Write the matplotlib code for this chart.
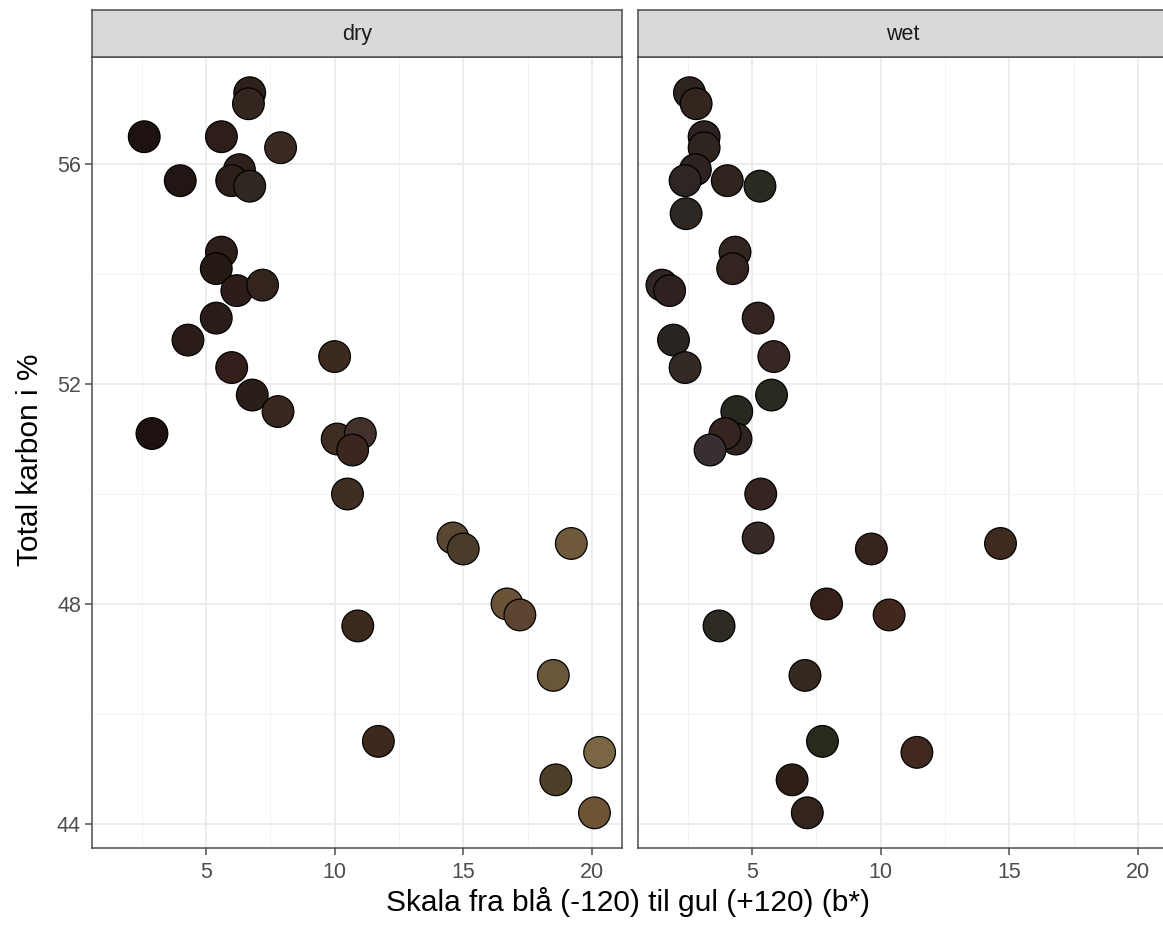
import matplotlib
matplotlib.use("Agg")
import matplotlib.pyplot as plt
from matplotlib.ticker import MultipleLocator

plt.rcParams["font.family"] = ["Liberation Sans", "DejaVu Sans"]

# dry samples: b* value, total carbon %, sample colour
dry_b = [6.7, 6.65, 2.6, 5.6, 7.9, 6.3, 4.0, 6.0, 6.7, 5.6, 5.4, 6.2, 7.2, 5.4, 4.3, 6.0,
         6.8, 7.8, 2.9, 10.0, 10.1, 11.0, 10.7, 10.5, 14.6, 15.0, 19.2, 16.7, 17.2, 10.9,
         18.5, 11.7, 20.3, 18.6, 20.1]
dry_c = [57.3, 57.1, 56.5, 56.5, 56.3, 55.9, 55.7, 55.7, 55.6, 54.4, 54.1, 53.7, 53.8, 53.2,
         52.8, 52.3, 51.8, 51.5, 51.1, 52.5, 51.0, 51.1, 50.8, 50.0, 49.2, 49.0, 49.1, 48.0,
         47.8, 47.6, 46.7, 45.5, 45.3, 44.8, 44.2]
dry_col = ["#2e211c", "#33261e", "#1e1210", "#2e1e1a", "#3a2a22", "#2e201c", "#221614",
           "#2c1e1a", "#302820", "#2c1e1a", "#261a14", "#2e1c1a", "#33241e", "#2a1c18",
           "#2c1c18", "#331e1c", "#2a1e18", "#3a2820", "#1e1210", "#3c2a1e", "#3f2d22",
           "#42302a", "#3c2620", "#3f2e22", "#5a4632", "#4a3c2a", "#6e5a3a", "#6a5236",
           "#5c4430", "#3c2a1e", "#6a5638", "#3e2a1c", "#7a6644", "#4e4028", "#6e5434"]

# wet samples
wet_b = [2.57, 2.83, 3.14, 3.14, 2.8, 2.4, 4.04, 5.31, 2.44, 4.34, 4.25, 1.5, 1.8, 5.24,
         1.95, 5.85, 2.4, 5.76, 4.41, 4.38, 3.95, 3.37, 5.34, 5.24, 9.64, 14.66, 7.9, 10.33,
         3.72, 7.06, 7.74, 11.41, 6.56, 7.15]
wet_c = [57.3, 57.1, 56.5, 56.3, 55.9, 55.7, 55.7, 55.6, 55.1, 54.4, 54.1, 53.8, 53.7, 53.2,
         52.8, 52.5, 52.3, 51.8, 51.5, 51.0, 51.1, 50.8, 50.0, 49.2, 49.0, 49.1, 48.0, 47.8,
         47.6, 46.7, 45.5, 45.3, 44.8, 44.2]
wet_col = ["#2e2420", "#32261f", "#2e2220", "#2e2420", "#2c2220", "#2e2622", "#30241f",
           "#2a2a20", "#2e2824", "#322620", "#33241f", "#322624", "#2e2220", "#342420",
           "#2a2420", "#382824", "#332a26", "#2a2a20", "#282820", "#2e241f", "#352420",
           "#383030", "#362420", "#382a24", "#37241e", "#3e2a1e", "#38201a", "#40281e",
           "#2e2a24", "#362a20", "#2a2a1c", "#42291f", "#2e2018", "#33241e"]

panels = [("dry", dry_b, dry_c, dry_col), ("wet", wet_b, wet_c, wet_col)]

W, H = 1163, 927
fig = plt.figure(figsize=(W / 100, H / 100), dpi=100)

def px_axes(x0, y0, x1, y1):
    # pixel box (top-left origin) -> figure coords
    return fig.add_axes([x0 / W, 1 - y1 / H, (x1 - x0) / W, (y1 - y0) / H])

lefts = [92, 638]
pw = 530
for i, (name, b, c, col) in enumerate(panels):
    x0 = lefts[i]
    ax = px_axes(x0, 57, x0 + pw, 848)
    ax.set_xlim(0.57, 21.17)
    ax.set_ylim(43.56, 57.95)
    ax.xaxis.set_major_locator(MultipleLocator(5))
    ax.xaxis.set_minor_locator(MultipleLocator(2.5))
    ax.set_yticks([44, 48, 52, 56])
    ax.set_yticks([46, 50, 54], minor=True)
    ax.grid(which="major", color="#ebebeb", lw=1.3)
    ax.grid(which="minor", color="#f2f2f2", lw=0.7)
    ax.set_axisbelow(True)
    for s in ax.spines.values():
        s.set_color("#4d4d4d")
        s.set_linewidth(1.1)
    ax.tick_params(which="major", length=5, width=1.1, color="#4d4d4d",
                   labelcolor="#4d4d4d", labelsize=15.5)
    ax.tick_params(axis="x", which="major", pad=5)
    ax.tick_params(axis="y", which="major", pad=3)
    ax.tick_params(which="minor", length=0)
    if i > 0:
        ax.tick_params(axis="y", which="major", length=0, labelleft=False)

    ax.scatter(b, c, s=520, c=col, edgecolors="black", linewidths=0.9, zorder=3)

    # facet strip
    st = px_axes(x0, 10, x0 + pw, 57)
    st.set_facecolor("#d9d9d9")
    st.set_xticks([])
    st.set_yticks([])
    for s in st.spines.values():
        s.set_color("#4d4d4d")
        s.set_linewidth(1.1)
    st.text(0.5, 0.48, name, ha="center", va="center", fontsize=15.5, color="#1a1a1a",
            transform=st.transAxes)

fig.text((92 + 1163) / 2 / W, 1 - 902 / H, "Skala fra blå (-120) til gul (+120) (b*)",
         ha="center", va="center", fontsize=21.5, color="black")
fig.text(30 / W, 1 - 460 / H, "Total karbon i %", ha="center", va="center",
         rotation=90, fontsize=21.5, color="black")

fig.savefig("out.png", dpi=100)
